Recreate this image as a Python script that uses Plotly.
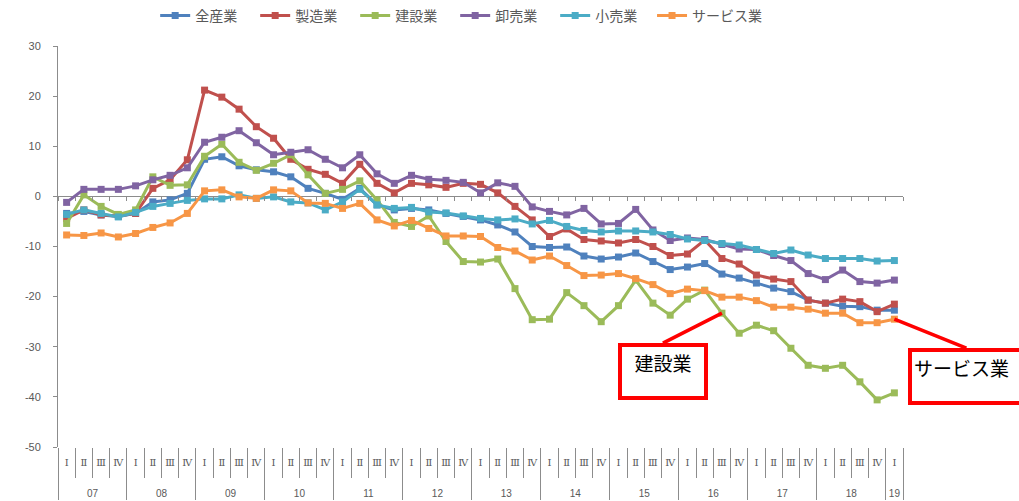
import plotly.graph_objects as go

# Quarter axis: fiscal years 07-18 with four quarters each, then 19 Q1
years = ["07", "08", "09", "10", "11", "12", "13", "14", "15", "16", "17", "18", "19"]
quarter_labels = ["Ⅰ", "Ⅱ", "Ⅲ", "Ⅳ"]

all_industries = [-3.4, -3.0, -3.7, -4.0, -3.4, -1.1, -0.7, 0.6, 7.4, 7.9, 6.1, 5.3, 4.9, 3.9, 1.6, 0.6,
                  -0.6, 1.6, -1.7, -2.7, -2.4, -2.7, -3.4, -4.0, -4.7, -5.7, -7.1, -10.0, -10.2, -10.1,
                  -11.9, -12.5, -12.1, -11.3, -13.0, -14.6, -14.1, -13.4, -15.5, -16.3, -17.3, -18.3,
                  -19.0, -20.7, -21.3, -21.9, -22.0, -22.7, -22.7]
manufacturing = [-4.4, -2.7, -3.7, -3.9, -3.4, 1.6, 3.3, 7.3, 21.2, 19.8, 17.4, 13.9, 11.6, 7.4, 5.4, 4.4,
                 2.6, 6.4, 2.6, 0.7, 2.6, 2.3, 1.8, 2.6, 2.4, 0.7, -2.0, -4.7, -8.0, -6.5, -8.6, -8.9,
                 -9.3, -8.6, -10.0, -11.8, -11.5, -8.7, -12.4, -13.5, -15.7, -16.5, -17.0, -20.7, -21.3,
                 -20.5, -21.0, -23.0, -21.5]
construction = [-5.4, 0.3, -2.0, -3.6, -2.7, 3.9, 2.2, 2.3, 8.0, 10.4, 6.8, 5.2, 6.6, 8.3, 4.3, 0.6,
                1.4, 3.1, -0.7, -5.2, -6.0, -3.9, -9.0, -13.0, -13.1, -12.5, -18.4, -24.6, -24.5, -19.2,
                -21.8, -25.0, -21.8, -16.7, -21.3, -23.7, -20.5, -18.7, -23.3, -27.3, -25.7, -26.8,
                -30.3, -33.7, -34.3, -33.7, -37.0, -40.6, -39.2]
wholesale = [-1.2, 1.4, 1.4, 1.4, 2.1, 3.3, 4.2, 5.7, 10.8, 11.8, 13.1, 10.7, 8.3, 8.8, 9.3, 7.4,
             5.7, 8.3, 4.5, 2.6, 4.2, 3.4, 3.2, 2.8, 0.7, 2.7, 2.0, -2.1, -3.0, -3.7, -2.4, -5.5,
             -5.4, -2.6, -6.7, -8.8, -8.3, -8.6, -9.6, -10.5, -10.6, -11.8, -12.8, -15.4, -16.6,
             -14.7, -17.0, -17.3, -16.7]
retail = [-3.6, -2.7, -3.4, -4.1, -3.2, -2.0, -1.4, -0.8, -0.5, -0.5, 0.3, -0.4, -0.1, -1.1, -1.3, -2.7,
          -1.1, 1.4, -1.7, -2.4, -2.2, -3.1, -3.3, -3.9, -4.4, -4.7, -4.5, -5.5, -4.8, -6.0, -6.8,
          -7.1, -6.9, -6.9, -7.1, -7.6, -8.5, -8.8, -9.4, -9.7, -10.6, -11.4, -10.7, -11.7, -12.4,
          -12.4, -12.4, -12.9, -12.8]
services = [-7.7, -7.8, -7.3, -8.1, -7.4, -6.2, -5.3, -3.4, 1.1, 1.3, -0.1, -0.4, 1.3, 1.1, -1.3, -1.4,
            -2.4, -1.4, -4.7, -5.9, -4.8, -6.4, -7.9, -7.9, -8.0, -10.2, -10.9, -12.7, -11.9, -13.8,
            -15.8, -15.7, -15.4, -16.4, -17.6, -19.4, -18.5, -18.8, -20.1, -20.1, -20.8, -22.1,
            -22.1, -22.5, -23.3, -23.3, -25.2, -25.2, -24.5]

series_names = ["全産業", "製造業", "建設業", "卸売業", "小売業", "サービス業"]
series_values = [all_industries, manufacturing, construction, wholesale, retail, services]
series_colors = ["#4F81BD", "#C0504D", "#9BBB59", "#8064A2", "#4BACC6", "#F79646"]

y_ticks = [30, 20, 10, 0, -10, -20, -30, -40, -50]
y_tick_text = ["30", "20", "10", "0", "-10", "-20", "-30", "-40", "-50"]

# two-level category coordinates (year, quarter); the quarter row carries two
# blank lines underneath so the year row sits lower, as on the printed axis
QUARTER_PAD = "<br>\u00a0<br>\u00a0"
x_year, x_quarter = [], []
for y in years:
    for q in quarter_labels:
        if len(x_year) < len(all_industries):
            x_year.append(y)
            x_quarter.append(q + QUARTER_PAD)
n = len(x_year)

AXIS_GRAY = "#8C8C8C"
TEXT_GRAY = "#595959"

fig = go.Figure()
for i, (name, vals, col) in enumerate(zip(series_names, series_values, series_colors)):
    # the long last name gets its own legend block so the fixed entry pitch
    # of the first five does not clip it
    fig.add_trace(go.Scatter(
        x=[x_year, x_quarter], y=vals, name=name, mode="lines+markers",
        line=dict(color=col, width=3),
        marker=dict(symbol="square", size=7, color=col),
        legend="legend2" if i == len(series_names) - 1 else "legend",
    ))

# hidden carrier so the tick-only axis along the zero line gets rendered
fig.add_trace(go.Scatter(
    x=list(range(n)), y=all_industries, xaxis="x2", mode="lines",
    line=dict(width=0), opacity=0, hoverinfo="skip", showlegend=False,
))

# callouts for construction and services
ci = series_names.index("建設業")
si = series_names.index("サービス業")
callouts = [
    (ci, 38, "建設業", -59, 30, 78, "center"),
    (si, n - 1, "サービス業", 72, 29, 104, "left"),
]
for s_idx, p_idx, label, ax, ay, w, al in callouts:
    fig.add_annotation(
        x=[x_year[p_idx], x_quarter[p_idx]], y=series_values[s_idx][p_idx],
        xref="x", yref="y",
        text=label, showarrow=True, arrowhead=0, arrowwidth=3.5, arrowcolor="#FF0000",
        ax=ax, ay=ay, xanchor="center", yanchor="top",
        width=w, height=45, align=al, valign="top",
        bordercolor="#FF0000", borderwidth=4, borderpad=2, bgcolor="white",
        font=dict(family="Noto Sans CJK JP", size=19, color="#000000"),
    )

legend_style = dict(orientation="h", y=1.075, yanchor="middle", xanchor="left",
                    font=dict(family="Noto Sans CJK JP", size=14, color=TEXT_GRAY),
                    bgcolor="rgba(0,0,0,0)", itemwidth=30)

fig.update_layout(
    width=1019, height=501,
    margin=dict(l=58, r=116, t=46, b=54, autoexpand=False),
    paper_bgcolor="white", plot_bgcolor="white",
    font=dict(family="Liberation Sans, Noto Sans CJK JP", color=TEXT_GRAY, size=11),
    showlegend=True,
    legend=dict(legend_style, x=0.115, entrywidth=55),
    legend2=dict(legend_style, x=0.703),
    xaxis=dict(
        type="multicategory", range=[-0.5, n - 0.5], automargin=False,
        showline=False, showgrid=False, zeroline=False,
        ticks="outside", tickson="boundaries", ticklen=30, tickcolor=AXIS_GRAY,
        ticklabelstandoff=8, tickangle=0,
        showdividers=True, dividercolor=AXIS_GRAY, dividerwidth=1,
        tickfont=dict(family="Liberation Sans, DejaVu Serif", size=10, color=TEXT_GRAY),
    ),
    xaxis2=dict(
        overlaying="x", anchor="free", position=0.625, type="linear",
        range=[-0.5, n - 0.5], tickmode="linear", tick0=-0.5, dtick=1,
        ticks="outside", ticklen=4, tickcolor=AXIS_GRAY, showticklabels=False,
        showline=False, showgrid=False, zeroline=False, automargin=False,
    ),
    yaxis=dict(
        range=[-50, 30], tickvals=y_ticks, ticktext=y_tick_text, automargin=False,
        showline=True, linecolor=AXIS_GRAY, linewidth=1,
        ticks="outside", ticklen=4, tickcolor=AXIS_GRAY, ticklabelstandoff=10,
        showgrid=False, zeroline=True, zerolinecolor=AXIS_GRAY, zerolinewidth=1,
        tickfont=dict(size=11, color=TEXT_GRAY),
    ),
)

fig.write_html("out.html")
